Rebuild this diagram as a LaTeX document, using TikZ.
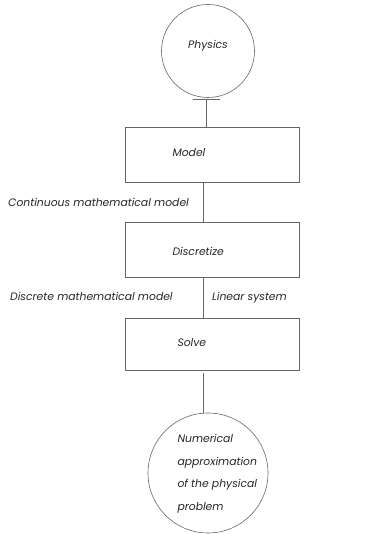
\documentclass[tikz,border=0pt]{standalone}
\usepackage{fontspec}
\setmainfont{Poppins}
\usetikzlibrary{arrows.meta}
\begin{document}
\begin{tikzpicture}[x=1pt,y=-1pt,
  line/.style={draw=black!60, line width=0.6pt},
  stage/.style={line, minimum width=174pt, minimum height=55pt, inner sep=0pt},
  blob/.style={line, circle, inner sep=0pt},
  txt/.style={font=\fontsize{10.8}{12}\selectfont\itshape, text=black!85},
  lbl/.style={txt, anchor=west, inner sep=0pt}]
\useasboundingbox (0,0) rectangle (381,534);
% nodes
\node[blob, minimum size=93pt] (phys) at (208,51) {};
\node[txt] at (208,46) {Physics};
\node[stage] (model) at (212,155) {};
\node[txt, anchor=west] at (169,153) {Model};
\node[stage] (disc) at (212,250) {};
\node[txt, anchor=west] at (169,251) {Discretize};
\node[stage, minimum height=52pt] (solve) at (212,344) {};
\node[txt, anchor=west] at (174,343) {Solve};
\node[blob, minimum size=120pt] (num) at (208,473) {};
\node[txt, anchor=west, align=left, font=\fontsize{10.8}{22.5}\selectfont\itshape] at (174,474)
  {Numerical\\approximation\\of the physical\\problem};
% connectors
\draw[line, -{Bar[width=27pt,line width=1.4pt]}] (model.north -| 206,0) -- (206,99);
\draw[line] (model.south -| 203,0) -- (disc.north -| 203,0);
\draw[line] (disc.south -| 203,0) -- (solve.north -| 203,0);
\draw[line] (solve.south -| 203,0) ++(0,3) -- (num.north -| 203,0);
% labels
\node[lbl] at (8,202) {Continuous mathematical model};
\node[lbl] at (10,296) {Discrete mathematical model};
\node[lbl] at (212,298) {Linear system};
\end{tikzpicture}
\end{document}
